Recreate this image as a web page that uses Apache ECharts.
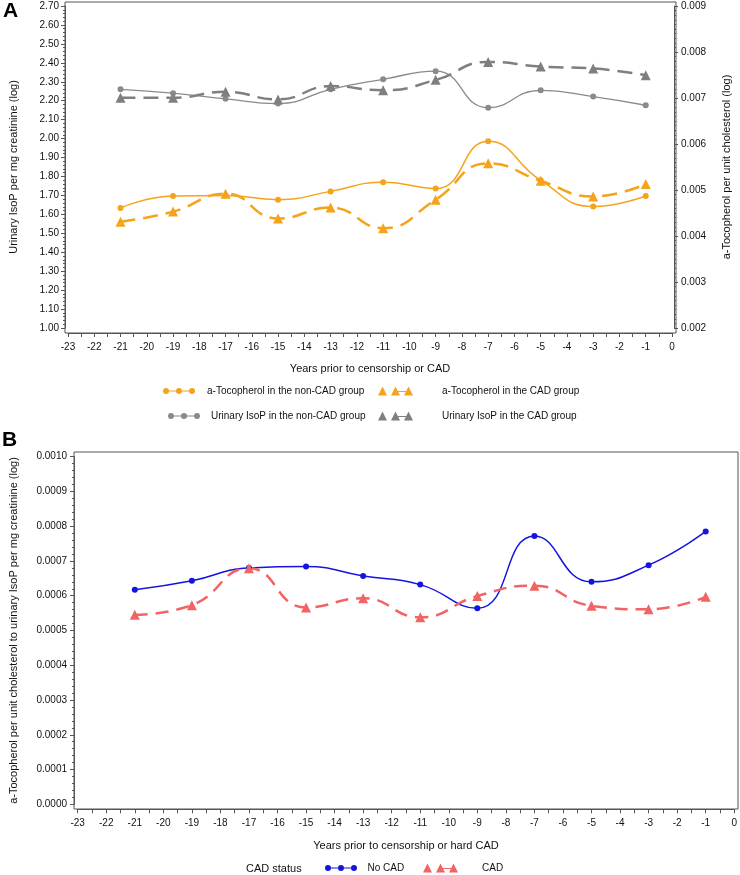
<!DOCTYPE html>
<html>
<head>
<meta charset="utf-8">
<script src="https://cdn.jsdelivr.net/npm/echarts@6/dist/echarts.min.js"></script>
<style>html,body{margin:0;padding:0;background:#fff}#c{width:740px;height:875px}</style>
</head>
<body>
<div id="c"></div>
<script>
// ---- data ----
const years = [-21, -19, -17, -15, -13, -11, -9, -7, -5, -3, -1];
const xTicksMin = -23, xTicksMax = 0;
// Panel A: urinary IsoP (left axis)
const isopNonCad = [2.26, 2.24, 2.21, 2.185, 2.26, 2.313, 2.356, 2.163, 2.255, 2.222, 2.176];
const isopCad    = [2.216, 2.215, 2.247, 2.207, 2.277, 2.255, 2.31, 2.405, 2.38, 2.37, 2.335];
// Panel A: a-Tocopherol (right axis)
const tocoNonCad = [0.00461, 0.00487, 0.00488, 0.00479, 0.00497, 0.00517, 0.00503, 0.00606, 0.00521, 0.00464, 0.00487];
const tocoCad    = [0.00431, 0.00453, 0.00492, 0.00438, 0.00462, 0.00417, 0.00479, 0.00558, 0.00520, 0.00486, 0.00513];
// Panel B: ratio
const ratioNoCad = [0.000617, 0.000643, 0.000680, 0.000684, 0.000657, 0.000632, 0.000564, 0.000772, 0.000640, 0.000688, 0.000785];
const ratioCad   = [0.000545, 0.000573, 0.000679, 0.000566, 0.000593, 0.000538, 0.000599, 0.000629, 0.000571, 0.000561, 0.000597];
const leftAxisA = {min: 1.0, max: 2.7, interval: 0.1};
const rightAxisA = {min: 0.002, max: 0.009, interval: 0.001};
const leftAxisB = {min: 0, max: 0.001, interval: 0.0001};
const names = {
  tocoNon: 'a-Tocopherol in the non-CAD group',
  tocoCad: 'a-Tocopherol in the CAD group',
  isopNon: 'Urinary IsoP in the non-CAD group',
  isopCad: 'Urinary IsoP in the CAD group',
  noCad: 'No CAD',
  cad: 'CAD'
};

// ---- styles ----
const F = "'Liberation Sans', Arial, sans-serif";
const ORANGE = '#F5A31A', GRAY = '#8A8A8A', GRAYD = '#7F7F7F', BLUE = '#1414E0', RED = '#F26464';
const AX = '#555';
const pair = (xs, ys) => xs.map((x, i) => [x, ys[i]]);

const circ3 = 'path://M0,4a3,3 0 1,1 6,0a3,3 0 1,1 -6,0Z M13,4a3,3 0 1,1 6,0a3,3 0 1,1 -6,0Z M26,4a3,3 0 1,1 6,0a3,3 0 1,1 -6,0Z M3,3.4H29V4.6H3Z';
const tri3 = 'path://M0,9L4.5,0L9,9Z M13,9L17.5,0L22,9Z M26,9L30.5,0L35,9Z M20,4.4H28V5.6H20Z';

function xAx(gridIndex, offset, name, nameGap) {
  return {
    type: 'value', gridIndex, min: xTicksMin, max: xTicksMax, interval: 1, offset, position: 'bottom',
    name, nameLocation: 'middle', nameGap,
    nameTextStyle: {fontFamily: F, fontSize: 11, color: '#111'},
    axisLine: {show: true, onZero: false, lineStyle: {color: AX, width: 1}},
    axisTick: {show: true, length: 4, lineStyle: {color: AX}},
    minorTick: {show: true, splitNumber: 2, length: 4, lineStyle: {color: AX}},
    axisLabel: {fontFamily: F, fontSize: 10, color: '#111', margin: 9, formatter: v => String(Math.round(v))},
    splitLine: {show: false}
  };
}
function yAx(gridIndex, cfg, pos, offset, dec, minorSplit, name, nameGap, margin) {
  return {
    type: 'value', gridIndex, position: pos, min: cfg.min, max: cfg.max, interval: cfg.interval, offset,
    name, nameLocation: 'middle', nameGap, nameRotate: 90,
    nameTextStyle: {fontFamily: F, fontSize: 11, color: '#111'},
    axisLine: {show: true, onZero: false, lineStyle: {color: AX, width: 1}},
    axisTick: {show: true, length: 4, lineStyle: {color: AX}},
    minorTick: {show: true, splitNumber: minorSplit, length: 2, lineStyle: {color: AX}},
    axisLabel: {fontFamily: F, fontSize: 10, color: '#111', margin, formatter: v => v.toFixed(dec)},
    splitLine: {show: false}
  };
}
const hiddenX = gi => ({type: 'value', gridIndex: gi, show: false, min: 0, max: 1, axisLine: {onZero: false}});
const hiddenY = gi => ({type: 'value', gridIndex: gi, show: false, min: 0, max: 1, axisLine: {onZero: false}});

function legendItem(name, icon, color, left, top, w, h, padLeft) {
  return {
    show: true, left, top, padding: 0, selectedMode: false, itemWidth: w, itemHeight: h,
    data: [{name, icon, itemStyle: {color, borderWidth: 0}}],
    textStyle: {fontFamily: F, fontSize: 10, color: '#111', padding: [0, 0, 0, padLeft]}
  };
}

const option = {
  animation: false,
  backgroundColor: '#fff',
  grid: [
    {left: 65, top: 2, width: 611, height: 331, show: true, borderColor: AX, borderWidth: 1, backgroundColor: 'transparent'},
    {left: 68, top: 6, width: 606, height: 322},
    {left: 74, top: 452, width: 664, height: 357, show: true, borderColor: AX, borderWidth: 1, backgroundColor: 'transparent'},
    {left: 77.7, top: 456.7, width: 656.6, height: 347.6}
  ],
  xAxis: [
    hiddenX(0),
    xAx(1, 5, 'Years prior to censorship or CAD', 30),
    hiddenX(2),
    xAx(3, 5, 'Years prior to censorship or hard CAD', 31)
  ],
  yAxis: [
    hiddenY(0),
    yAx(1, leftAxisA, 'left', 3, 2, 5, 'Urinary IsoP per mg creatinine (log)', 46, 6),
    yAx(1, rightAxisA, 'right', 2, 3, 10, 'a-Tocopherol per unit cholesterol (log)', 47, 7),
    hiddenY(2),
    yAx(3, leftAxisB, 'left', 3.7, 4, 5, 'a-Tocopherol per unit cholesterol to urinary IsoP per mg creatinine (log)', 55, 7)
  ],
  legend: [
    legendItem(names.tocoNon, circ3, ORANGE, 163, 386, 32, 6, 7),
    legendItem(names.tocoCad, tri3, ORANGE, 378, 386, 35, 9, 24),
    legendItem(names.isopNon, circ3, GRAY, 168, 411, 32, 6, 6),
    legendItem(names.isopCad, tri3, GRAYD, 378, 411, 35, 9, 24),
    legendItem(names.noCad, circ3, BLUE, 325, 863, 33, 6, 5),
    legendItem(names.cad, tri3, RED, 423, 863, 35, 9, 19)
  ],
  graphic: [
    {type: 'text', left: 3, top: 1, style: {text: 'A', font: 'bold 21px ' + F, fill: '#000'}},
    {type: 'text', left: 2, top: 430, style: {text: 'B', font: 'bold 21px ' + F, fill: '#000'}},
    {type: 'text', left: 246, top: 863, style: {text: 'CAD status', font: '11px ' + F, fill: '#111'}}
  ],
  series: [
    {name: names.isopNon, type: 'line', xAxisIndex: 1, yAxisIndex: 1, data: pair(years, isopNonCad), smooth: 0.5,
     symbol: 'circle', symbolSize: 6, itemStyle: {color: GRAY}, lineStyle: {color: GRAY, width: 1.3}},
    {name: names.isopCad, type: 'line', xAxisIndex: 1, yAxisIndex: 1, data: pair(years, isopCad), smooth: 0.5,
     symbol: 'triangle', symbolSize: 10, itemStyle: {color: GRAYD}, lineStyle: {color: GRAYD, width: 2.5, type: [15, 8]}},
    {name: names.tocoNon, type: 'line', xAxisIndex: 1, yAxisIndex: 2, data: pair(years, tocoNonCad), smooth: 0.5,
     symbol: 'circle', symbolSize: 6, itemStyle: {color: ORANGE}, lineStyle: {color: ORANGE, width: 1.5}},
    {name: names.tocoCad, type: 'line', xAxisIndex: 1, yAxisIndex: 2, data: pair(years, tocoCad), smooth: 0.5,
     symbol: 'triangle', symbolSize: 10, itemStyle: {color: ORANGE}, lineStyle: {color: ORANGE, width: 2.5, type: [15, 8]}},
    {name: names.noCad, type: 'line', xAxisIndex: 3, yAxisIndex: 4, data: pair(years, ratioNoCad), smooth: 0.5,
     symbol: 'circle', symbolSize: 6, itemStyle: {color: BLUE}, lineStyle: {color: BLUE, width: 1.5}},
    {name: names.cad, type: 'line', xAxisIndex: 3, yAxisIndex: 4, data: pair(years, ratioCad), smooth: 0.5,
     symbol: 'triangle', symbolSize: 10, itemStyle: {color: RED}, lineStyle: {color: RED, width: 2.5, type: [13, 8]}}
  ]
};
const chart = echarts.init(document.getElementById('c'), null, {renderer: 'canvas'});
chart.setOption(option);
</script>
</body>
</html>
